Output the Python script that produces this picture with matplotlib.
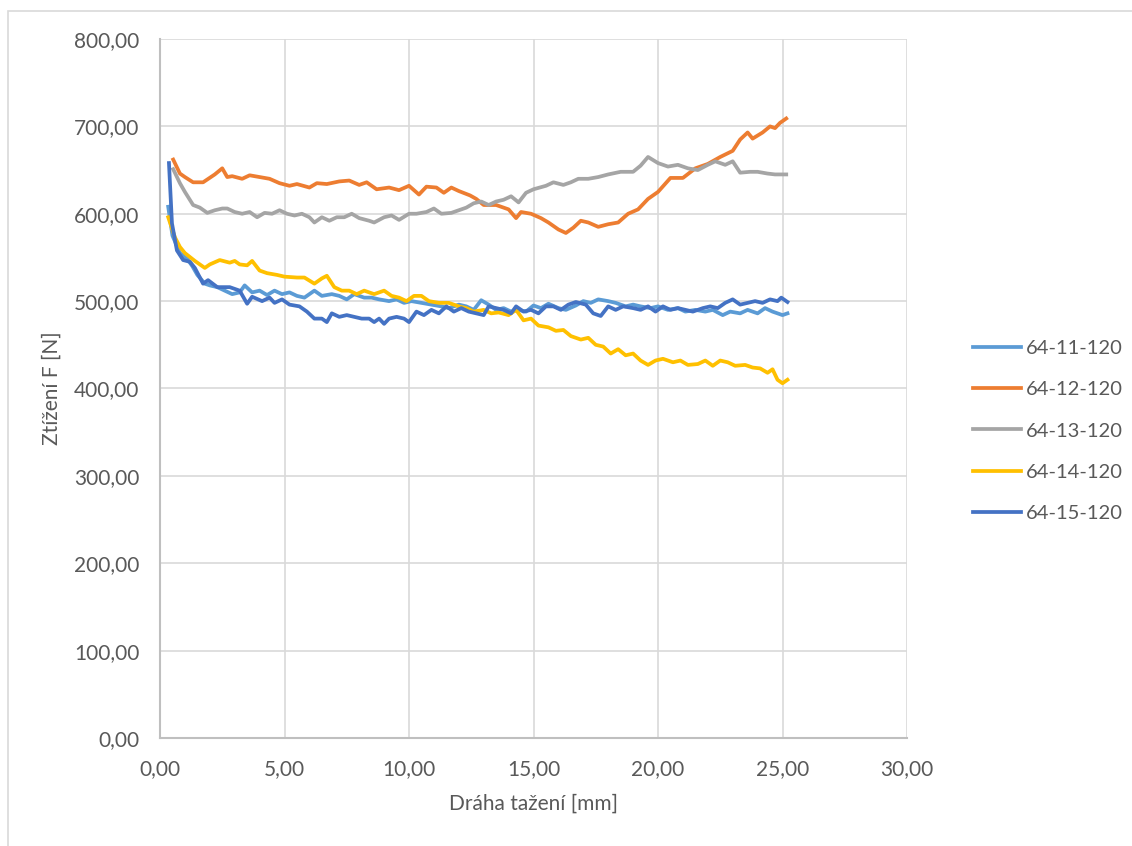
import matplotlib.pyplot as plt
from matplotlib.patches import Rectangle
from matplotlib.ticker import FuncFormatter, MultipleLocator

plt.rcParams['font.family'] = ['Lato', 'DejaVu Sans']

### data

labels = ["64-11-120", "64-12-120", "64-13-120", "64-14-120", "64-15-120"]
colors = ["#5B9BD5", "#ED7D31", "#A5A5A5", "#FFC000", "#4472C4"]

x_11 = [0.33, 0.5, 0.8, 1.1, 1.3, 1.5, 1.8, 2.0, 2.3, 2.6, 2.9, 3.2, 3.4, 3.7, 4.0,
        4.3, 4.6, 4.9, 5.2, 5.5, 5.8, 6.2, 6.5, 6.9, 7.2, 7.5, 7.8, 8.2, 8.5, 8.8,
        9.2, 9.5, 9.8, 10.1, 10.5, 10.9, 11.3, 11.6, 12.0, 12.3, 12.6, 12.9, 13.2,
        13.5, 13.8, 14.1, 14.4, 14.7, 15.0, 15.3, 15.6, 16.0, 16.3, 16.7, 17.0,
        17.3, 17.6, 18.0, 18.3, 18.7, 19.0, 19.3, 19.7, 20.0, 20.4, 20.8, 21.1,
        21.5, 21.9, 22.2, 22.6, 22.9, 23.3, 23.6, 24.0, 24.3, 24.6, 25.0, 25.2]
y_11 = [608, 575, 555, 548, 540, 530, 520, 518, 516, 512, 508, 510, 518, 510, 512,
        507, 512, 508, 510, 506, 504, 512, 506, 508, 506, 502, 508, 504, 504, 502,
        500, 502, 498, 500, 498, 496, 494, 492, 496, 494, 490, 501, 496,
        490, 492, 488, 490, 488, 495, 492, 497, 492, 490, 495, 500,
        498, 502, 500, 498, 494, 496, 494, 492, 494, 490, 492, 488,
        490, 488, 490, 484, 488, 486, 490, 486, 492, 488, 484, 486]

x_12 = [0.53, 0.8, 1.0, 1.33, 1.73, 2.2, 2.5, 2.7, 2.9, 3.3, 3.6, 4.0, 4.4, 4.8,
        5.2, 5.5, 6.0, 6.3, 6.7, 7.2, 7.6, 8.0, 8.3, 8.7, 9.2, 9.6, 10.0, 10.4,
        10.7, 11.1, 11.4, 11.7, 12.0, 12.45, 12.7, 13.0, 13.5, 14.0, 14.3, 14.5,
        14.9, 15.3, 15.6, 16.0, 16.3, 16.6, 16.9, 17.2, 17.6, 18.0, 18.4, 18.8,
        19.2, 19.6, 20.0, 20.5, 21.0, 21.5, 22.0, 22.5, 23.0, 23.3, 23.6, 23.8,
        24.2, 24.5, 24.7, 24.9, 25.15]
y_12 = [662, 646, 642, 636, 636, 645, 652, 642, 643, 640, 644, 642, 640, 635,
        632, 634, 630, 635, 634, 637, 638, 633, 636, 628, 630, 627, 632, 622,
        631, 630, 624, 630, 626, 621, 617, 610, 610, 605, 595, 602,
        600, 595, 590, 582, 578, 584, 592, 590, 585, 588, 590, 600,
        605, 617, 625, 641, 641, 652, 657, 665, 672, 685, 693, 686,
        693, 700, 698, 704, 709]

x_13 = [0.53, 0.8, 1.0, 1.33, 1.6, 1.9, 2.2, 2.5, 2.7, 3.0, 3.3, 3.6, 3.9, 4.2,
        4.5, 4.8, 5.1, 5.4, 5.7, 6.0, 6.2, 6.5, 6.8, 7.1, 7.4, 7.7, 8.0, 8.4,
        8.6, 9.0, 9.3, 9.6, 10.0, 10.3, 10.7, 11.0, 11.3, 11.7, 12.0, 12.3,
        12.6, 12.9, 13.2, 13.5, 13.8, 14.1, 14.4, 14.7, 15.0, 15.5, 15.8, 16.2,
        16.5, 16.8, 17.2, 17.6, 18.0, 18.5, 19.0, 19.3, 19.6, 20.0, 20.4, 20.8,
        21.2, 21.6, 22.0, 22.3, 22.7, 23.0, 23.3, 23.7, 24.0, 24.4, 24.7, 25.15]
y_13 = [651, 635, 625, 610, 607, 601, 604, 606, 606, 602, 600, 602, 596, 601,
        600, 604, 600, 598, 600, 596, 590, 596, 592, 596, 596, 600, 595, 592,
        590, 596, 598, 593, 600, 600, 602, 606, 600, 601, 604, 607,
        612, 614, 610, 614, 616, 620, 613, 624, 628, 632, 636, 633,
        636, 640, 640, 642, 645, 648, 648, 655, 665, 658, 654, 656,
        652, 650, 656, 660, 656, 660, 647, 648, 648, 646, 645, 645]

x_14 = [0.33, 0.6, 0.8, 1.0, 1.4, 1.8, 2.0, 2.4, 2.8, 3.0, 3.2, 3.5, 3.7, 4.0,
        4.3, 4.7, 5.0, 5.5, 5.8, 6.2, 6.5, 6.7, 7.0, 7.3, 7.6, 7.9, 8.2, 8.6,
        9.0, 9.3, 9.6, 9.9, 10.2, 10.5, 10.8, 11.2, 11.6, 12.0, 12.3, 12.6,
        13.0, 13.3, 13.6, 14.0, 14.3, 14.6, 14.9, 15.2, 15.6, 15.9, 16.2, 16.5,
        16.9, 17.2, 17.5, 17.8, 18.1, 18.4, 18.7, 19.0, 19.3, 19.6, 19.9, 20.2,
        20.6, 20.9, 21.2, 21.6, 21.9, 22.2, 22.5, 22.8, 23.1, 23.5, 23.8, 24.1,
        24.4, 24.6, 24.8, 25.0, 25.2]
y_14 = [596, 573, 562, 555, 546, 538, 542, 547, 544, 546, 542, 541, 546, 535,
        532, 530, 528, 527, 527, 520, 526, 529, 516, 512, 512, 508, 512, 508,
        512, 506, 504, 500, 506, 506, 500, 498, 498, 494, 492, 488,
        490, 486, 487, 484, 490, 478, 480, 472, 470, 466, 467, 460,
        456, 458, 450, 448, 440, 445, 438, 440, 432, 427, 432, 434,
        430, 432, 427, 428, 432, 426, 432, 430, 426, 427, 424, 423,
        418, 422, 410, 406, 410]

x_15 = [0.36, 0.48, 0.68, 0.93, 1.2, 1.4, 1.73, 1.93, 2.3, 2.8, 3.2, 3.5, 3.7,
        4.1, 4.4, 4.6, 4.9, 5.2, 5.6, 5.9, 6.2, 6.5, 6.7, 6.9, 7.2, 7.5, 7.8,
        8.1, 8.4, 8.6, 8.8, 9.0, 9.2, 9.5, 9.8, 10.0, 10.3, 10.6, 10.9, 11.2,
        11.5, 11.8, 12.1, 12.4, 12.7, 13.0, 13.2, 13.5, 13.8, 14.1, 14.3, 14.6,
        14.9, 15.2, 15.5, 15.8, 16.1, 16.4, 16.7, 17.1, 17.4, 17.7, 18.0, 18.3,
        18.6, 19.0, 19.3, 19.6, 19.9, 20.2, 20.5, 20.8, 21.1, 21.4, 21.8, 22.1,
        22.4, 22.7, 23.0, 23.3, 23.6, 23.9, 24.2, 24.5, 24.8, 24.95, 25.2]
y_15 = [658, 589, 558, 547, 545, 538, 520, 524, 516, 516, 512, 497, 505,
        500, 504, 498, 502, 496, 494, 488, 480, 480, 476, 486, 482, 484, 482,
        480, 480, 476, 480, 474, 480, 482, 480, 476, 488, 484, 490, 486,
        494, 488, 492, 488, 486, 484, 494, 492, 490, 486, 494, 488,
        490, 486, 494, 494, 490, 496, 499, 496, 486, 483, 494, 490,
        494, 492, 490, 494, 488, 494, 490, 492, 490, 488, 492, 494,
        492, 498, 502, 496, 498, 500, 498, 502, 500, 504, 499]

series_x = [x_11, x_12, x_13, x_14, x_15]
series_y = [y_11, y_12, y_13, y_14, y_15]

### figure

text_col = "#595959"
fig = plt.figure(figsize=(11.32, 8.46), dpi=100)
# light frame round the chart area
fig.patches.append(Rectangle((8/1132, -0.01), 1.02, (846-11)/846 + 0.01,
                             transform=fig.transFigure, fill=False,
                             edgecolor="#d9d9d9", linewidth=1.2))
ax = fig.add_axes([160/1132, (846-738)/846, (907-160)/1132, (738-39)/846])

for xs, ys, lab, col in zip(series_x, series_y, labels, colors):
    ax.plot(xs, ys, color=col, lw=2.7, label=lab, solid_joinstyle='round')

ax.set_xlim(0, 30)
ax.set_ylim(0, 800)
ax.xaxis.set_major_locator(MultipleLocator(5))
ax.yaxis.set_major_locator(MultipleLocator(100))
fmt = FuncFormatter(lambda v, p: f"{v:.2f}".replace(".", ","))
ax.xaxis.set_major_formatter(fmt)
ax.yaxis.set_major_formatter(fmt)
ax.grid(True, color="#d9d9d9", lw=1.2)
ax.set_axisbelow(True)
for s in ["top", "right"]:
    ax.spines[s].set_visible(False)
for s in ["left", "bottom"]:
    ax.spines[s].set_color("#bfbfbf")
    ax.spines[s].set_linewidth(1.5)
ax.tick_params(length=0, labelsize=15, colors=text_col)
ax.tick_params(axis='x', pad=15)
ax.tick_params(axis='y', pad=15)
ax.set_xlabel("Dráha tažení [mm]", fontsize=15, color=text_col, labelpad=11)
ax.set_ylabel("Ztížení F [N]", fontsize=15, color=text_col, labelpad=9)

fig.legend(loc="center left", bbox_to_anchor=(955/1132, (846-431)/846),
           frameon=False, fontsize=14.5, labelcolor=text_col,
           handlelength=2.4, handletextpad=0.2, labelspacing=1.2)

fig.savefig("out.png", dpi=100)
